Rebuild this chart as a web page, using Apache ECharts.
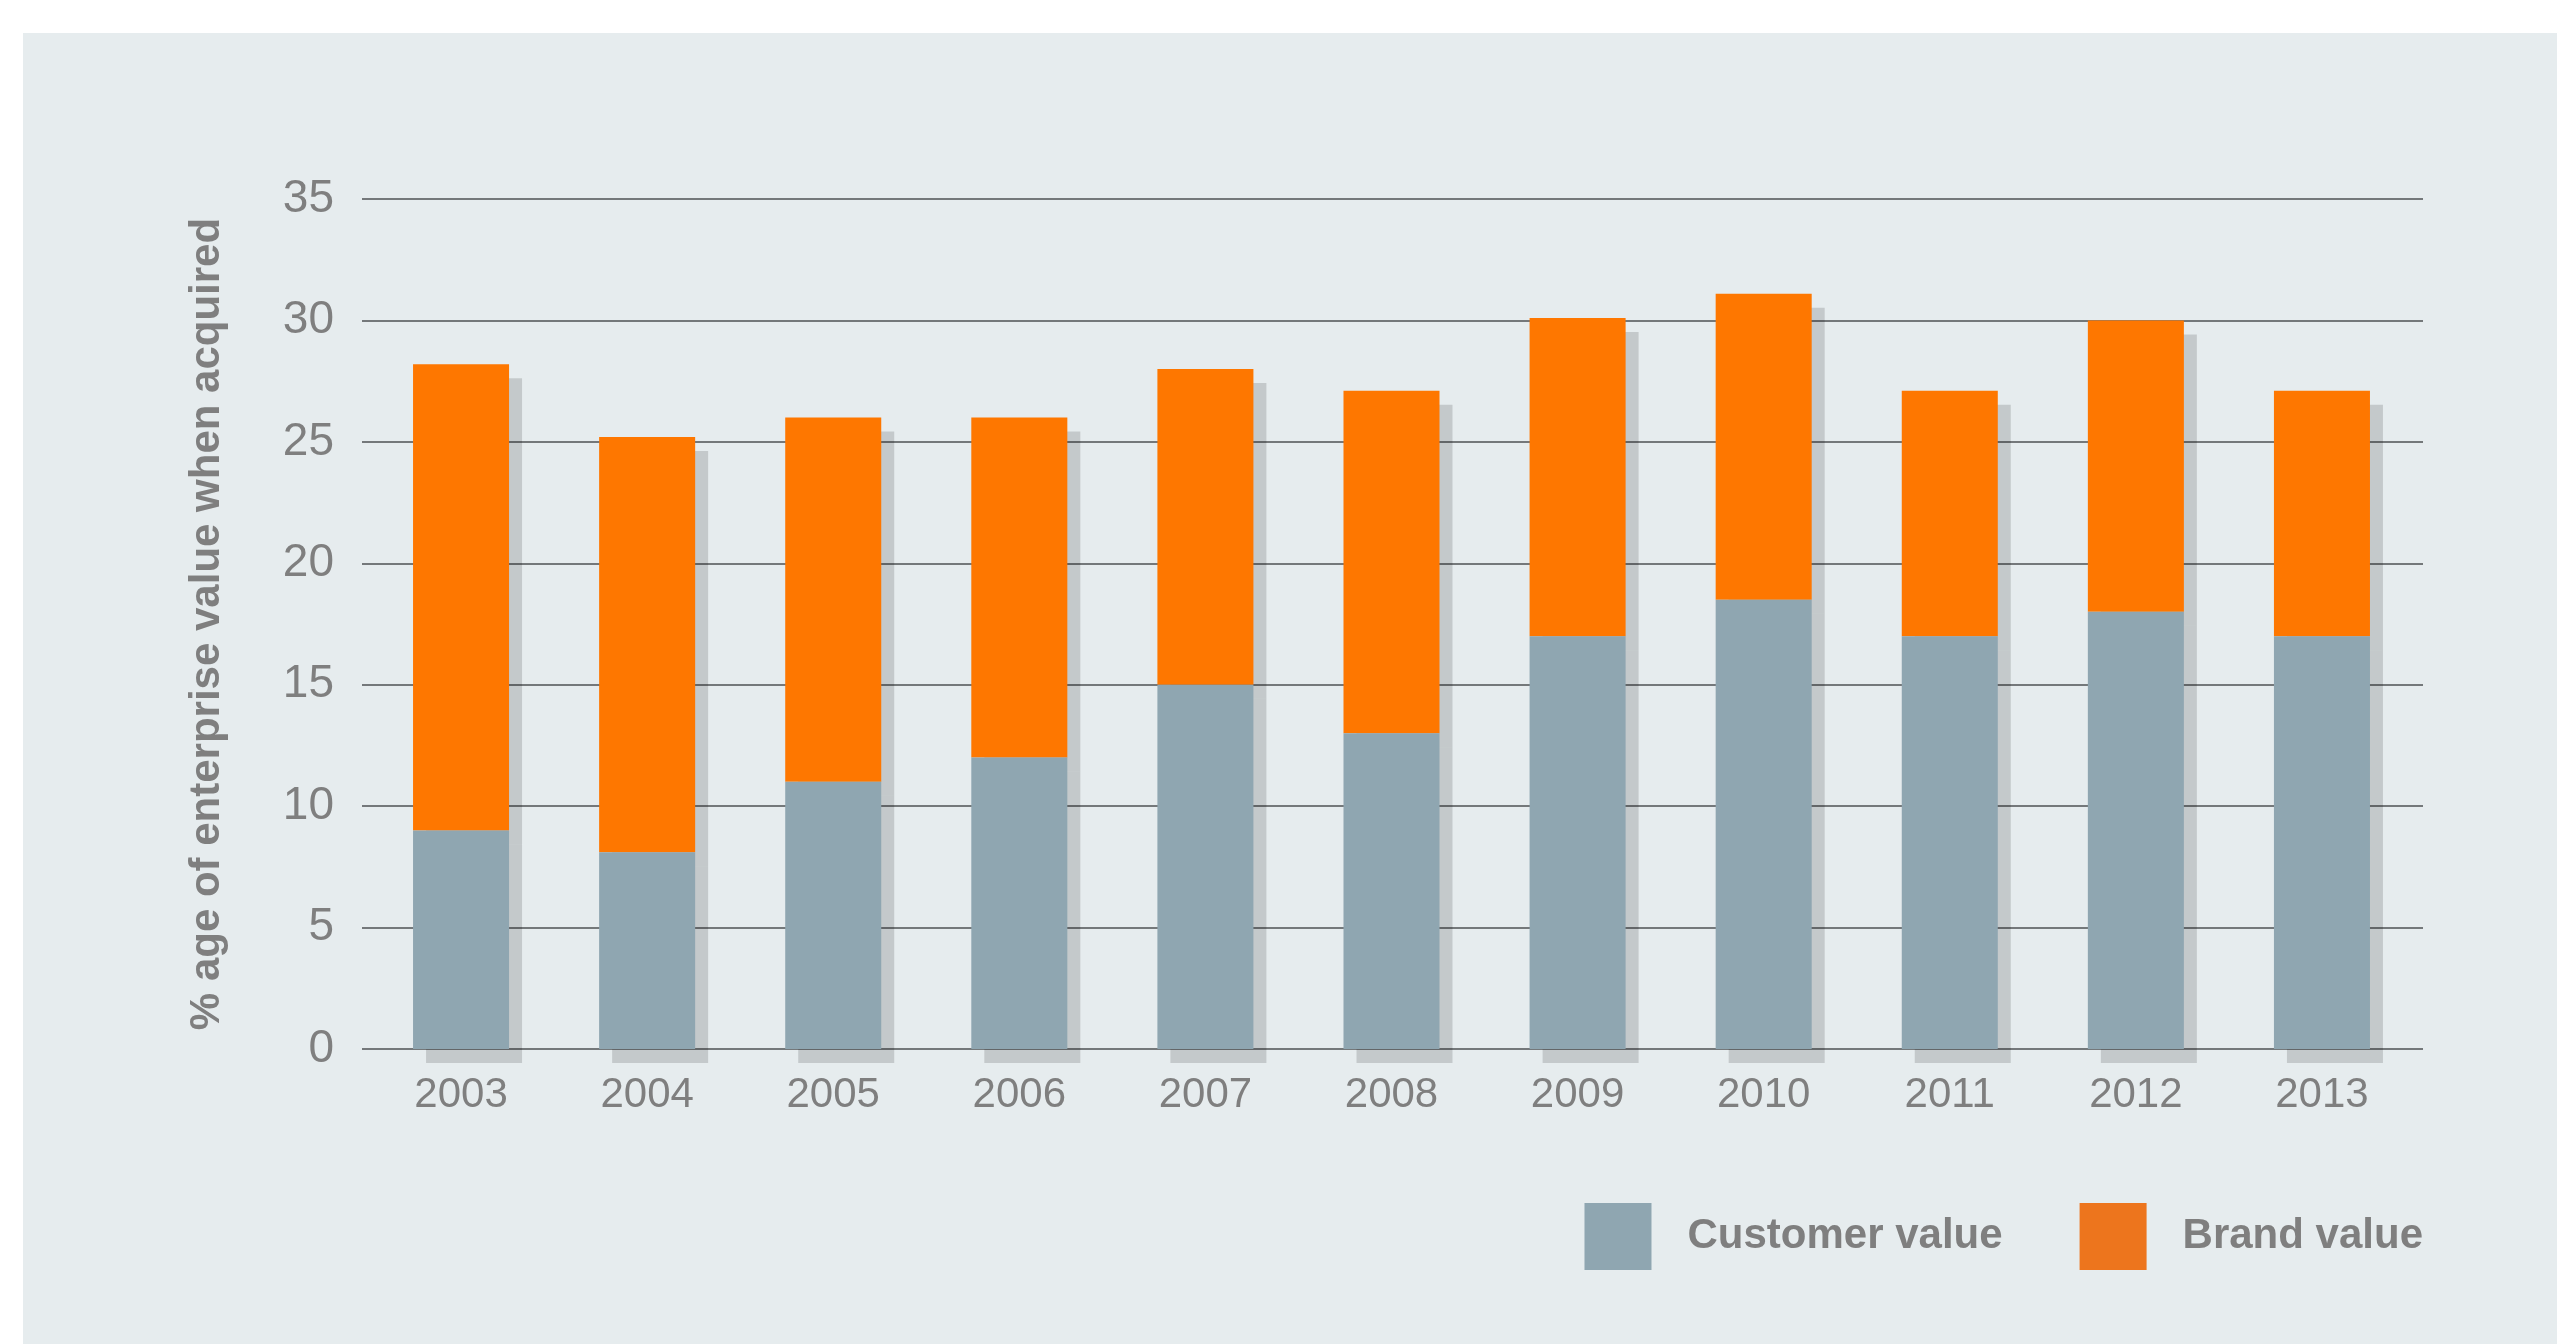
<!DOCTYPE html>
<html>
<head>
<meta charset="utf-8">
<script src="https://cdn.jsdelivr.net/npm/echarts@6/dist/echarts.min.js"></script>
<style>
html,body{margin:0;padding:0;background:#fff;}
#chart{width:2557px;height:1344px;}
</style>
</head>
<body>
<div id="chart"></div>
<script>
const years = ['2003','2004','2005','2006','2007','2008','2009','2010','2011','2012','2013'];
const customerValue = [9, 8.1, 11, 12, 15, 13, 17, 18.5, 17, 18, 17];
const brandValue = [19.2, 17.1, 15, 14, 13, 14.1, 13.1, 12.6, 10.1, 12, 10.1];
const yTicks = {min: 0, max: 35, interval: 5};

const textGray = '#7f7f7f';
const shadow = {shadowColor: 'rgba(0,0,0,0.147)', shadowBlur: 0, shadowOffsetX: 13, shadowOffsetY: 14};

const chart = echarts.init(document.getElementById('chart'), null, {renderer: 'canvas'});
chart.setOption({
  backgroundColor: '#ffffff',
  animation: false,
  graphic: [{
    type: 'rect', z: -10, silent: true,
    shape: {x: 23, y: 33, width: 2534, height: 1311},
    style: {fill: '#e6ecee'}
  }],
  grid: [
    {left: 368, right: 142, top: 199, bottom: 295, containLabel: false},
    {left: 362, right: 134, top: 199, bottom: 295, containLabel: false}
  ],
  legend: {
    right: 129, top: 1198,
    icon: 'rect', itemWidth: 67, itemHeight: 67, itemGap: 77,
    textStyle: {fontFamily: 'Liberation Sans', fontWeight: 'bold', fontSize: 42, color: textGray, padding: [0, 0, 0, 31]},
    itemStyle: {shadowColor: 'transparent', shadowBlur: 0, shadowOffsetX: 0, shadowOffsetY: 0},
    data: [
      {name: 'Customer value', itemStyle: {color: '#8fa6b1'}},
      {name: 'Brand value', itemStyle: {color: '#ed751d'}}
    ]
  },
  xAxis: [
    {
      type: 'category', data: years, gridIndex: 0,
      axisLine: {show: false}, axisTick: {show: false},
      axisLabel: {fontFamily: 'Liberation Sans', fontSize: 42, color: textGray, margin: 25}
    },
    {
      type: 'value', gridIndex: 1, show: false, min: 0, max: 1
    }
  ],
  yAxis: [
    {
      type: 'value', gridIndex: 0, min: yTicks.min, max: yTicks.max, interval: yTicks.interval,
      axisLine: {show: false}, axisTick: {show: false}, axisLabel: {show: false},
      splitLine: {show: false}
    },
    {
      type: 'value', gridIndex: 1, min: yTicks.min, max: yTicks.max, interval: yTicks.interval,
      name: '% age of enterprise value when acquired',
      nameLocation: 'middle', nameRotate: 90, nameGap: 134,
      nameTextStyle: {fontFamily: 'Liberation Sans', fontWeight: 'bold', fontSize: 42, color: textGray},
      axisLine: {show: false}, axisTick: {show: false},
      axisLabel: {fontFamily: 'Liberation Sans', fontSize: 46, color: textGray, margin: 28},
      splitLine: {show: true, lineStyle: {color: '#74787a', width: 2}},
      z: 0
    }
  ],
  series: [
    {
      name: 'Customer value', type: 'bar', stack: 'total', z: 3,
      xAxisIndex: 0, yAxisIndex: 0,
      barWidth: '51.6%', data: customerValue,
      itemStyle: Object.assign({color: '#8fa6b1'}, shadow)
    },
    {
      name: 'Brand value', type: 'bar', stack: 'total', z: 2,
      xAxisIndex: 0, yAxisIndex: 0,
      barWidth: '51.6%', data: brandValue,
      itemStyle: Object.assign({color: '#fe7700'}, shadow)
    }
  ]
});
</script>
</body>
</html>
